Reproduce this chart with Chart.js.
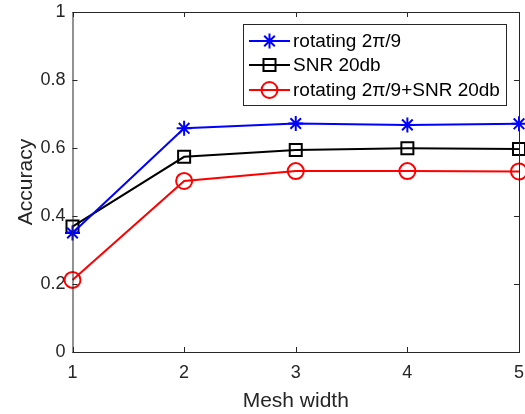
<!DOCTYPE html>
<html>
<head>
<meta charset="utf-8">
<script src="https://cdn.jsdelivr.net/npm/chart.js@4.4.1/dist/chart.umd.min.js"></script>
<style>
  html, body { margin: 0; padding: 0; background: #fff; }
  #wrap { width: 525px; height: 414px; }
</style>
</head>
<body>
<div id="wrap"><canvas id="chart" width="525" height="414"></canvas></div>
<script>
const meshWidth = [1, 2, 3, 4, 5];
const rotating = [0.350, 0.658, 0.672, 0.668, 0.671];
const snr20 = [0.369, 0.574, 0.594, 0.599, 0.597];
const rotatingSnr = [0.212, 0.503, 0.532, 0.532, 0.531];
const yTicks = [0, 0.2, 0.4, 0.6, 0.8, 1];

const axisColor = '#262626';
const fontFamily = '"Liberation Sans", Arial, Helvetica, sans-serif';

// MATLAB style box with inward ticks on all four sides
const boxAxes = {
  id: 'boxAxes',
  afterDraw(chart) {
    const { ctx, chartArea: a, scales } = chart;
    ctx.save();
    ctx.strokeStyle = axisColor;
    ctx.lineWidth = 1;
    ctx.strokeRect(a.left + 0.5, a.top + 0.5, a.right - a.left, a.bottom - a.top);
    const len = 5;
    ctx.beginPath();
    meshWidth.forEach(v => {
      const x = Math.round(scales.x.getPixelForValue(v)) + 0.5;
      ctx.moveTo(x, a.bottom); ctx.lineTo(x, a.bottom - len);
      ctx.moveTo(x, a.top); ctx.lineTo(x, a.top + len);
    });
    yTicks.forEach(v => {
      const y = Math.round(scales.y.getPixelForValue(v)) + 0.5;
      ctx.moveTo(a.left, y); ctx.lineTo(a.left + len, y);
      ctx.moveTo(a.right, y); ctx.lineTo(a.right - len, y);
    });
    ctx.stroke();
    ctx.restore();
  }
};

// legend drawn like MATLAB: line with marker in the middle
const matLegend = {
  id: 'matLegend',
  afterDraw(chart) {
    const { ctx } = chart;
    const box = { x: 243.5, y: 24.5, w: 263, h: 81 };
    ctx.save();
    ctx.fillStyle = '#fff';
    ctx.fillRect(box.x, box.y, box.w, box.h);
    ctx.strokeStyle = axisColor;
    ctx.lineWidth = 1;
    ctx.strokeRect(box.x, box.y, box.w, box.h);
    const rows = [41, 65, 90];
    chart.data.datasets.forEach((ds, i) => {
      const y = rows[i];
      ctx.strokeStyle = ds.borderColor;
      ctx.lineWidth = 2;
      ctx.beginPath();
      ctx.moveTo(249, y); ctx.lineTo(290, y);
      ctx.stroke();
      ctx.fillStyle = 'rgba(0,0,0,0)';
      Chart.helpers.drawPoint(ctx, {
        pointStyle: ds.pointStyle,
        radius: ds.pointRadius,
        borderWidth: 2,
        rotation: 0
      }, 269.5, y);
      ctx.fillStyle = '#000';
      ctx.font = '19px ' + fontFamily;
      ctx.textBaseline = 'middle';
      ctx.fillText(ds.label, 293, y + 1);
    });
    ctx.restore();
  }
};

function series(label, data, color, style, r) {
  return {
    label, data,
    borderColor: color,
    backgroundColor: 'rgba(0,0,0,0)',
    pointBorderColor: color,
    pointBackgroundColor: 'rgba(0,0,0,0)',
    borderWidth: 2,
    pointBorderWidth: 2,
    pointStyle: style,
    pointRadius: r,
    pointHoverRadius: r,
    tension: 0,
    clip: false
  };
}

new Chart(document.getElementById('chart'), {
  type: 'line',
  data: {
    labels: meshWidth,
    datasets: [
      series('rotating 2\u03c0/9', rotating, '#0000ff', 'star', 7.5),
      series('SNR 20db', snr20, '#000000', 'rect', 8.5),
      series('rotating 2\u03c0/9+SNR 20db', rotatingSnr, '#ff0000', 'circle', 8)
    ]
  },
  options: {
    responsive: false,
    animation: false,
    layout: { autoPadding: false, padding: { top: 12, right: 6, left: 10, bottom: 0 } },
    plugins: { legend: { display: false }, tooltip: { enabled: false } },
    scales: {
      x: {
        type: 'linear', min: 1, max: 5,
        afterBuildTicks: s => { s.ticks = meshWidth.map(v => ({ value: v })); },
        afterFit: s => { s.height = 62; s.paddingLeft = 0; s.paddingRight = 0; },
        grid: { display: false, drawTicks: false },
        border: { display: false },
        ticks: { color: axisColor, padding: 10, font: { size: 18, family: fontFamily }, maxRotation: 0 },
        title: { display: true, text: 'Mesh width', color: axisColor, padding: { top: 4, bottom: 0 }, font: { size: 21, family: fontFamily } }
      },
      y: {
        min: 0, max: 1,
        afterBuildTicks: s => { s.ticks = yTicks.map(v => ({ value: v })); },
        afterFit: s => { s.width = 62.5; s.paddingTop = 0; s.paddingBottom = 0; },
        grid: { display: false, drawTicks: false },
        border: { display: false },
        ticks: { color: axisColor, padding: 7, font: { size: 18, family: fontFamily }, callback: v => String(v) },
        title: { display: true, text: 'Accuracy', color: axisColor, padding: { bottom: 2 }, font: { size: 21, family: fontFamily } }
      }
    }
  },
  plugins: [boxAxes, matLegend]
});
</script>
</body>
</html>
